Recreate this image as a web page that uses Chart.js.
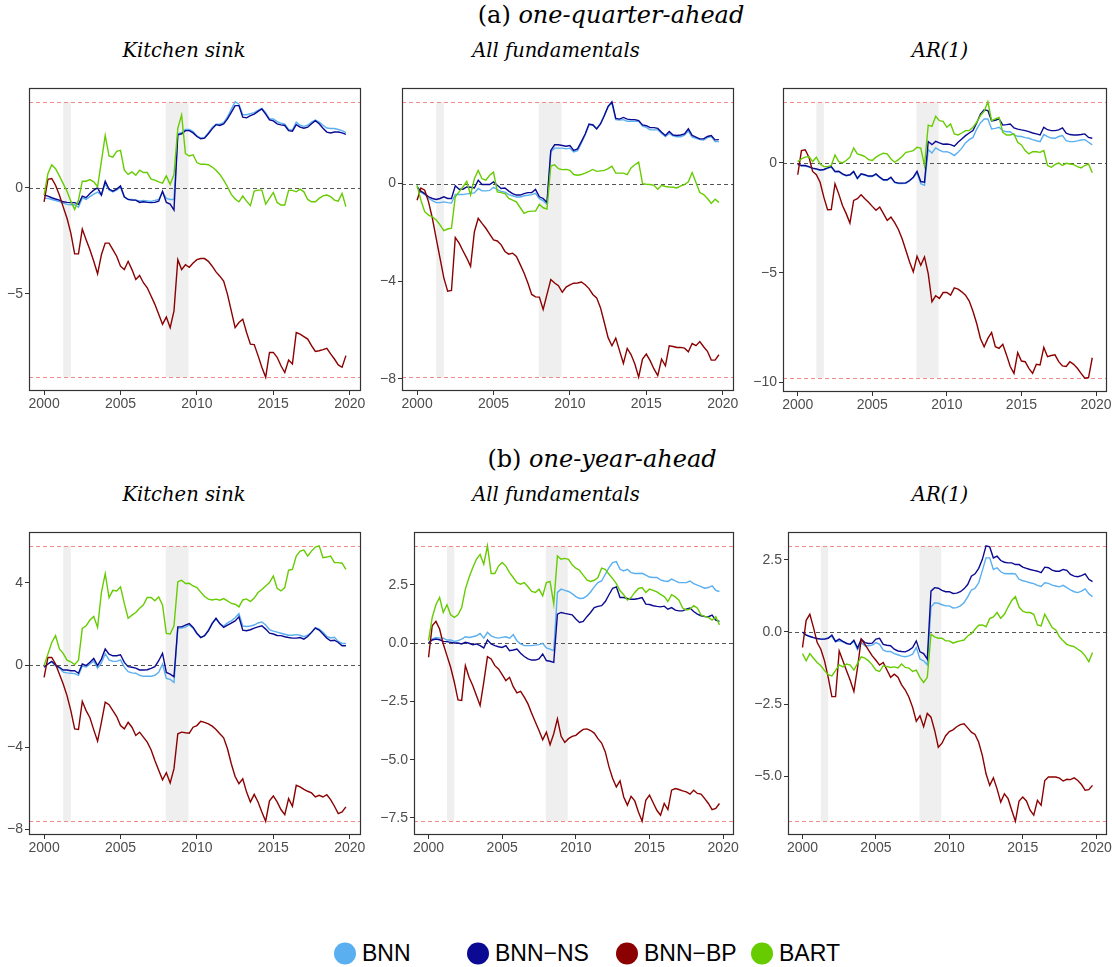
<!DOCTYPE html>
<html>
<head>
<meta charset="utf-8">
<script src="https://cdn.jsdelivr.net/npm/chart.js@4.4.0/dist/chart.umd.min.js"></script>
<style>
  html, body { margin: 0; padding: 0; background: #fff; }
  body { width: 1112px; height: 967px; position: relative; overflow: hidden; }
  canvas { position: absolute; }
  .hdr { position: absolute; transform: translate(-50%, -50%); white-space: nowrap;
         font-family: "DejaVu Serif", "Liberation Serif", serif; font-size: 24px; color: #000; }
  .hdr i { font-style: italic; }
  .ttl { position: absolute; transform: translate(-50%, -50%); white-space: nowrap;
         font-family: "DejaVu Serif", "Liberation Serif", serif; font-style: italic; font-size: 19.5px; color: #000; }
  .leg { position: absolute; top: 953px; transform: translateY(-50%); display: flex; align-items: center;
         font-family: "Liberation Sans", Arial, sans-serif; font-size: 23px; color: #000; white-space: nowrap; }
  .dot { width: 22px; height: 22px; border-radius: 50%; margin-right: 6px; }
</style>
</head>
<body>

<div class="hdr" style="left:611px; top:15px;">(a) <i>one-quarter-ahead</i></div>
<div class="hdr" style="left:602px; top:459px;">(b) <i>one-year-ahead</i></div>

<script>
// Quarterly time index, 2000Q1 .. 2019Q4
const quarters = [];
for (let yr = 2000; yr <= 2019; yr++) for (let k = 0; k < 4; k++) quarters.push(yr + k / 4);

const seriesNames = ["BNN", "BNN\u2212NS", "BNN\u2212BP", "BART"];
const seriesColors = ["#5aaff0", "#0a0a92", "#8b0000", "#66cc00"];
const xTicks = [2000, 2005, 2010, 2015, 2020];
const recessions = [[2001.25, 2001.75], [2007.96, 2009.45]];

// (a) one-quarter-ahead — Kitchen sink
const ksQ_bnn = [-0.5,-0.5,-0.55,-0.6,-0.65,-0.72,-0.78,-0.8,-0.8,-0.92, -0.48,-0.55,-0.42,-0.3,-0.2,-0.34,0.2,-0.1,-0.2,-0.1, 0.03,-0.45,-0.55,-0.55,-0.58,-0.62,-0.6,-0.62,-0.64,-0.6, -0.55,-0.2,-0.5,-0.55,-0.55,2.55,2.6,2.75,2.75,2.65, 2.45,2.35,2.38,2.6,2.85,3.0,3.0,3.08,3.35,3.7, 4.06,3.95,3.45,3.45,3.5,3.55,3.65,3.75,3.55,3.25, 3.25,3.12,3.05,3.0,2.75,2.72,3.1,2.95,2.9,2.95, 3.1,3.2,3.1,2.95,2.82,2.8,2.8,2.75,2.7,2.6];
const ksQ_ns = [-0.34,-0.39,-0.47,-0.53,-0.58,-0.66,-0.69,-0.7,-0.7,-0.78, -0.39,-0.47,-0.27,-0.11,0,-0.34,0.31,-0.06,-0.16,-0.06, 0.09,-0.42,-0.55,-0.58,-0.58,-0.69,-0.66,-0.69,-0.7,-0.69, -0.63,-0.16,-0.69,-0.77,-1.05,2.5,2.55,2.7,2.7,2.59, 2.42,2.31,2.34,2.55,2.78,2.98,2.94,3.02,3.25,3.56, 3.88,3.88,3.33,3.3,3.41,3.48,3.61,3.72,3.48,3.2, 3.16,3.02,2.97,2.94,2.7,2.67,2.98,2.86,2.81,2.86, 3.02,3.17,3.02,2.81,2.63,2.59,2.63,2.63,2.59,2.52];
const ksQ_bp = [-0.66,0.4,0.44,0.12,-0.34,-0.9,-1.44,-2.14,-3.12,-3.12, -1.95,-2.45,-2.92,-3.47,-4.06,-3.16,-2.61,-2.61,-2.92,-3.23, -3.7,-3.86,-3.47,-3.86,-4.33,-4.14,-4.48,-4.72,-5.11,-5.5, -5.97,-6.44,-6.1,-6.6,-5.81,-3.39,-3.86,-3.63,-3.75,-3.55, -3.39,-3.34,-3.34,-3.47,-3.7,-3.97,-4.17,-4.4,-5.03,-5.81, -6.6,-6.36,-6.2,-6.83,-7.38,-7.4,-7.92,-8.47,-8.94,-7.77, -7.77,-8.0,-8.4,-8.72,-8.13,-8.31,-6.83,-6.91,-7.02,-7.14, -7.45,-7.72,-7.69,-7.64,-7.58,-7.84,-8.08,-8.36,-8.47,-7.92];
const ksQ_bart = [-0.34,0.67,1.09,0.9,0.56,0.2,-0.16,-0.63,-1.02,-0.58, 0.31,0.31,0.39,0.28,0.05,1.25,2.47,1.5,1.45,1.72, 1.77,0.83,0.63,0.75,0.59,0.83,0.72,0.72,0.41,0.36, 0.28,0.22,0.56,0.16,0.63,2.81,3.44,1.61,1.5,1.56, 1.19,1.11,1.11,1.09,0.98,0.83,0.63,0.36,0.05,-0.31, -0.53,-0.66,-0.39,-0.63,-0.84,-0.16,-0.11,-0.11,-0.77,-0.5, -0.22,-0.69,-0.81,-0.81,-0.12,-0.12,-0.19,-0.06,-0.19,-0.55, -0.66,-0.66,-0.5,-0.38,-0.34,-0.42,-0.58,-0.63,-0.27,-0.89];
const ksQ_ticks = [-5, 0];

// (a) one-quarter-ahead — All fundamentals
const afQ_bnn = [-0.1,-0.35,-0.45,-0.6,-0.7,-0.78,-0.78,-0.75,-0.78,-0.8, -0.45,-0.45,-0.45,-0.42,-0.4,-0.38,-0.2,-0.3,-0.3,-0.28, -0.15,-0.25,-0.32,-0.35,-0.45,-0.5,-0.55,-0.55,-0.5,-0.48, -0.45,-0.4,-0.62,-0.7,-0.85,1.3,1.45,1.45,1.45,1.42, 1.45,1.3,1.35,1.65,2.0,2.4,2.42,2.25,2.45,2.8, 3.15,3.3,2.62,2.6,2.62,2.55,2.55,2.55,2.55,2.35, 2.3,2.2,2.2,2.2,2.05,1.92,2.05,1.95,1.92,1.92, 1.98,2.15,1.9,1.85,1.8,1.78,1.88,1.92,1.72,1.72];
const afQ_ns = [-0.14,-0.31,-0.41,-0.54,-0.61,-0.65,-0.61,-0.54,-0.61,-0.61, -0.09,-0.23,-0.23,-0.14,-0.15,-0.18,0.14,-0.04,-0.04,-0.04, 0.07,-0.07,-0.2,-0.18,-0.31,-0.41,-0.47,-0.47,-0.41,-0.37, -0.37,-0.24,-0.54,-0.61,-0.77,1.36,1.59,1.59,1.56,1.53, 1.56,1.36,1.42,1.72,2.03,2.44,2.4,2.24,2.44,2.78, 3.16,3.35,2.67,2.64,2.71,2.64,2.62,2.62,2.58,2.4, 2.37,2.29,2.29,2.26,2.1,1.97,2.13,1.99,1.97,1.99, 2.03,2.24,1.97,1.9,1.83,1.83,1.93,1.97,1.79,1.8];
const afQ_bp = [-0.68,-0.18,-0.27,-0.75,-1.42,-2.24,-3.05,-3.86,-4.41,-4.38, -2.21,-2.44,-2.75,-3.05,-3.39,-1.97,-1.42,-1.63,-1.83,-2.07, -2.31,-2.35,-2.51,-2.78,-2.89,-2.85,-2.98,-3.32,-3.66,-4.07, -4.54,-4.64,-4.65,-5.15,-4.54,-3.93,-4.07,-4.18,-4.45,-4.24, -4.15,-4.08,-4.07,-4.03,-4.14,-4.3,-4.54,-4.68,-5.08,-5.69, -6.31,-6.64,-6.33,-6.85,-7.36,-6.75,-7.0,-7.39,-7.93,-7.19, -6.98,-7.25,-7.59,-7.86,-7.19,-7.46,-6.64,-6.67,-6.71,-6.71, -6.74,-6.89,-6.55,-6.64,-6.47,-6.68,-6.87,-7.23,-7.23,-7.01];
const afQ_bart = [-0.07,-0.68,-1.15,-1.29,-1.36,-1.49,-1.69,-1.93,-1.86,-1.83, -0.54,-0.34,-0.14,0.09,-0.47,0.2,0.54,0.2,0.14,0.34, 0.47,-0.34,-0.37,-0.41,-0.61,-0.68,-0.75,-0.99,-1.22,-1.15, -1.13,-1.13,-0.85,-0.99,-1.04,0.72,0.77,0.61,0.57,0.58, 0.54,0.37,0.34,0.37,0.43,0.5,0.58,0.5,0.52,0.54, 0.61,0.71,0.43,0.43,0.43,0.37,0.64,0.77,0.88,0, -0.03,-0.04,-0.07,-0.23,-0.07,-0.12,-0.14,-0.15,-0.18,-0.09, -0.04,0.07,0.45,0.04,-0.37,-0.45,-0.61,-0.81,-0.64,-0.77];
const afQ_ticks = [-8, -4, 0];

// (a) one-quarter-ahead — AR(1)
const arQ_bnn = [-0.07,-0.14,-0.14,-0.19,-0.26,-0.29,-0.34,-0.32,-0.25,-0.19, -0.41,-0.4,-0.52,-0.59,-0.56,-0.41,-0.72,-0.52,-0.56,-0.62, -0.62,-0.52,-0.67,-0.79,-0.79,-0.67,-0.9,-0.94,-0.94,-0.93, -0.82,-0.67,-0.45,-0.95,-1.02,0.6,0.45,0.68,0.58,0.5, 0.51,0.44,0.33,0.48,0.67,0.91,1.06,1.16,1.54,1.82, 2.0,2.0,1.54,1.57,1.62,1.47,1.42,1.42,1.27,1.21, 1.2,1.15,1.12,1.06,1.01,0.97,1.29,1.2,1.13,1.12, 1.2,1.24,1.01,0.97,0.97,1.0,1.04,1.06,0.94,0.82];
const arQ_ns = [-0.05,-0.12,-0.12,-0.17,-0.24,-0.27,-0.32,-0.3,-0.23,-0.17, -0.39,-0.38,-0.5,-0.57,-0.54,-0.39,-0.7,-0.5,-0.54,-0.6, -0.6,-0.5,-0.65,-0.77,-0.77,-0.65,-0.88,-0.92,-0.92,-0.91, -0.8,-0.65,-0.38,-0.85,-0.88,0.97,0.83,0.98,0.91,0.85, 0.86,0.83,0.76,0.94,1.09,1.24,1.36,1.47,1.82,2.22, 2.42,2.38,1.91,1.94,2.0,1.72,1.74,1.77,1.59,1.54, 1.5,1.47,1.42,1.36,1.32,1.27,1.62,1.51,1.47,1.47, 1.5,1.59,1.35,1.29,1.27,1.27,1.29,1.32,1.16,1.12];
const arQ_bp = [-0.54,0.56,0.6,0.26,-0.39,-0.54,-0.88,-1.56,-2.13,-2.12, -0.95,-1.41,-1.94,-2.31,-2.74,-1.71,-1.63,-1.45,-1.63,-1.79, -1.98,-2.16,-2.01,-2.31,-2.62,-2.47,-2.72,-3.03,-3.45,-3.98, -4.51,-4.96,-4.25,-4.66,-4.28,-5.04,-6.32,-6.05,-6.17,-5.9, -5.9,-6.02,-5.69,-5.75,-5.87,-6.02,-6.29,-6.75,-7.31,-7.99, -8.37,-7.99,-7.72,-8.37,-8.44,-8.26,-8.74,-9.27,-9.58,-8.64, -9.02,-9.05,-9.35,-9.58,-9.17,-9.2,-8.4,-8.82,-8.77,-8.74, -9.05,-9.24,-9.27,-9.05,-9.17,-9.35,-9.58,-9.8,-9.77,-8.87];
const arQ_bart = [0.06,0.18,0.26,0.29,0.06,0.26,-0.05,-0.17,-0.17,-0.12, 0.36,0.06,0,0.11,0.26,0.68,0.41,0.36,0.29,0.15, 0.11,0.26,0.36,0.44,0.41,0.18,0.03,0.15,0.29,0.48, 0.51,0.56,0.71,0.67,-0.12,1.72,1.66,2.12,1.92,1.89, 1.62,1.77,1.32,1.27,1.36,1.47,1.47,1.62,1.85,2.15, 2.35,2.78,1.92,2.0,2.07,1.39,1.27,1.27,1.32,0.94, 0.82,0.56,0.41,0.51,0.51,0.48,0.56,-0.12,-0.2,-0.08, 0,-0.12,-0.02,-0.05,-0.08,-0.17,-0.23,-0.12,-0.05,-0.45];
const arQ_ticks = [-10, -5, 0];

// (b) one-year-ahead — Kitchen sink
const ksY_bnn = [-0.1,0.05,0.15,-0.05,-0.15,-0.35,-0.38,-0.4,-0.42,-0.5, -0.05,-0.1,0.05,0.2,-0.15,0.1,0.55,0.25,0.18,0.18, 0.25,-0.1,-0.32,-0.38,-0.4,-0.5,-0.55,-0.55,-0.55,-0.5, -0.35,0.05,-0.65,-0.7,-0.85,1.8,1.8,1.85,1.95,1.8, 1.52,1.35,1.42,1.7,2.05,2.25,2.0,1.9,2.05,2.15, 2.3,2.5,1.9,1.88,1.9,1.95,2.05,2.1,1.95,1.72, 1.65,1.6,1.55,1.5,1.45,1.45,1.48,1.45,1.38,1.45, 1.6,1.82,1.75,1.6,1.4,1.32,1.35,1.15,1.05,1.05];
const ksY_ns = [-0.11,0.05,0.18,0,-0.11,-0.24,-0.24,-0.28,-0.28,-0.4, 0.05,-0.03,0.13,0.32,-0.03,0.29,0.78,0.53,0.45,0.45, 0.5,0.13,-0.08,-0.11,-0.15,-0.24,-0.24,-0.23,-0.16,-0.08, 0.21,0.57,-0.36,-0.44,-0.57,1.86,1.86,1.94,2.02,1.83, 1.55,1.34,1.43,1.67,2.02,2.28,2.02,1.83,1.94,2.04, 2.15,2.35,1.7,1.67,1.72,1.8,1.86,1.91,1.75,1.55, 1.51,1.44,1.43,1.38,1.34,1.31,1.31,1.34,1.26,1.39, 1.59,1.8,1.7,1.51,1.31,1.18,1.21,1.1,0.94,0.94];
const ksY_bp = [-0.6,0.37,0.37,0.05,-0.44,-0.92,-1.49,-2.22,-3.11,-3.14, -1.77,-2.22,-2.57,-3.16,-3.71,-2.79,-1.81,-1.93,-2.22,-2.51, -2.95,-3.11,-2.79,-3.03,-3.43,-3.27,-3.51,-3.76,-4.13,-4.65, -5.13,-5.59,-5.25,-5.75,-5.05,-3.35,-3.27,-3.3,-3.32,-3.03, -2.95,-2.74,-2.79,-2.87,-2.98,-3.14,-3.35,-3.55,-4.08,-4.81, -5.43,-5.78,-5.54,-6.19,-6.67,-6.3,-6.67,-7.16,-7.61,-6.62, -6.38,-6.67,-7.04,-7.29,-6.51,-6.88,-5.86,-5.94,-6.06,-6.15, -6.23,-6.43,-6.35,-6.43,-6.32,-6.56,-6.88,-7.24,-7.16,-6.91];
const ksY_bart = [-0.03,0.53,1.1,1.43,0.78,0.57,0.24,0.16,0.02,0.24, 1.78,1.91,2.19,2.36,1.83,3.53,4.45,3.29,3.64,3.61, 3.81,3.0,2.28,2.43,2.56,2.77,2.93,3.29,3.29,3.13, 3.32,2.93,1.54,1.51,1.91,4.06,4.13,3.97,3.98,3.85, 3.77,3.55,3.34,3.21,3.17,3.21,3.16,3.24,3.13,3.0, 2.96,2.83,3.17,3.22,3.09,3.26,3.53,3.68,3.85,4.02, 4.34,3.74,3.61,3.77,4.62,4.66,5.31,5.55,5.6,5.31, 5.55,5.75,5.81,5.23,5.26,5.31,4.99,4.99,4.96,4.66];
const ksY_ticks = [-8, -4, 0, 4];

// (b) one-year-ahead — All fundamentals
const afY_bnn = [0,0.17,0.24,0.21,0.21,0.13,0.13,0.07,0.1,0.17, 0.27,0.24,0.27,0.31,0.41,0.21,0.46,0.31,0.24,0.21, 0.24,0.27,0.21,0.36,0.1,-0.04,-0.11,-0.11,-0.11,-0.09, -0.07,-0.01,-0.21,-0.26,-0.33,2.17,2.31,2.26,2.21,2.12, 1.99,1.91,1.92,2.02,2.19,2.41,2.59,2.66,2.95,3.23, 3.45,3.49,3.16,3.09,3.16,3.02,2.98,2.98,2.99,2.91, 2.83,2.81,2.81,2.71,2.66,2.64,2.74,2.66,2.59,2.59, 2.59,2.66,2.55,2.48,2.42,2.35,2.38,2.45,2.26,2.21];
const afY_ns = [0,0.13,0.17,0.14,0.07,0.06,0.03,0,0,-0.04, 0.03,-0.01,-0.07,-0.04,-0.11,-0.21,0.13,-0.04,-0.11,-0.16, -0.19,-0.11,-0.33,-0.3,-0.26,-0.44,-0.58,-0.68,-0.73,-0.73, -0.68,-0.47,-0.75,-0.78,-0.83,1.24,1.31,1.27,1.24,1.21, 1.03,0.88,0.93,1.13,1.31,1.52,1.57,1.6,1.78,2.07, 2.35,2.41,1.95,1.95,1.91,1.88,1.88,1.91,1.95,1.67, 1.65,1.6,1.57,1.55,1.58,1.45,1.52,1.41,1.38,1.38, 1.45,1.5,1.35,1.24,1.17,1.14,1.13,1.2,0.98,0.93];
const afY_bp = [-0.61,0.74,0.93,0.6,-0.04,-0.54,-1.04,-1.68,-2.44,-2.46, -0.97,-1.47,-1.82,-2.25,-2.68,-1.68,-0.58,-0.68,-0.97,-1.11, -1.35,-1.61,-1.47,-1.87,-2.14,-2.07,-2.32,-2.61,-3.01,-3.39, -3.75,-4.15,-3.82,-4.36,-3.89,-3.25,-4.0,-4.26,-4.1,-4.0, -3.96,-3.82,-3.7,-3.68,-3.75,-3.86,-4.1,-4.29,-4.67,-5.31, -5.81,-6.17,-5.91,-6.6,-6.95,-6.57,-6.77,-7.24,-7.64,-6.74, -6.52,-6.85,-7.17,-7.38,-6.88,-7.14,-6.31,-6.24,-6.28,-6.34, -6.38,-6.48,-6.31,-6.45,-6.48,-6.67,-6.88,-7.14,-7.09,-6.88];
const afY_bart = [0.1,1.1,1.64,1.95,1.31,1.64,1.21,1.1,1.21,1.52, 2.31,2.81,3.23,3.59,3.8,3.38,4.17,2.98,2.98,3.3, 3.45,3.3,3.02,2.81,2.59,2.52,2.59,2.41,2.21,2.17, 2.31,2.02,2.59,2.64,1.67,3.73,3.59,3.63,3.59,3.35, 3.21,3.12,2.91,2.71,2.64,2.69,2.81,3.21,3.16,2.95, 2.76,2.55,2.24,2.07,1.84,1.95,2.17,2.34,2.38,2.17, 2.31,2.26,2.19,2.09,1.99,1.78,2.07,1.98,1.84,1.5, 1.42,1.45,1.6,1.5,1.2,1.14,1.1,0.98,1.13,0.78];
const afY_ticks = [-7.5, -5, -2.5, 0, 2.5];

// (b) one-year-ahead — AR(1)
const arY_bnn = [-0.02,-0.1,-0.15,-0.2,-0.23,-0.25,-0.25,-0.2,-0.15,-0.34, -0.31,-0.34,-0.39,-0.43,-0.33,-0.62,-0.37,-0.48,-0.48,-0.46, -0.37,-0.43,-0.63,-0.68,-0.68,-0.75,-0.79,-0.84,-0.86,-0.83, -0.77,-0.54,-0.94,-1.0,-1.14,0.86,1.01,0.99,0.94,0.9, 0.9,0.83,0.84,0.9,1.01,1.21,1.45,1.51,1.7,2.13, 2.56,2.56,2.16,2.22,2.08,2.02,2.01,2.02,2.01,1.82, 1.77,1.74,1.7,1.67,1.61,1.57,1.7,1.68,1.62,1.59, 1.56,1.61,1.53,1.45,1.39,1.36,1.41,1.49,1.32,1.22];
const arY_ns = [0,-0.11,-0.16,-0.2,-0.23,-0.25,-0.25,-0.22,-0.11,-0.33, -0.25,-0.33,-0.4,-0.43,-0.29,-0.56,-0.25,-0.37,-0.4,-0.39, -0.25,-0.22,-0.43,-0.46,-0.48,-0.6,-0.66,-0.68,-0.69,-0.63, -0.54,-0.31,-0.69,-0.75,-0.94,1.41,1.53,1.51,1.44,1.39, 1.39,1.33,1.34,1.39,1.49,1.64,1.93,2.01,2.2,2.51, 2.98,2.94,2.56,2.62,2.47,2.41,2.39,2.39,2.33,2.33, 2.24,2.2,2.16,2.13,2.1,2.05,2.24,2.22,2.14,2.1, 2.1,2.16,2.13,1.99,1.93,1.91,1.95,2.01,1.82,1.74];
const arY_bp = [-0.54,0.4,0.61,0.15,-0.37,-0.6,-1.0,-1.57,-2.24,-2.24, -0.66,-1.0,-1.34,-1.67,-2.06,-1.23,-0.25,-0.43,-0.63,-0.83, -0.98,-1.15,-1.06,-1.32,-1.57,-1.46,-1.57,-1.83,-2.01,-2.26, -2.61,-3.09,-2.9,-3.28,-2.82,-2.95,-3.41,-3.99,-3.85,-3.59, -3.45,-3.39,-3.28,-3.21,-3.18,-3.32,-3.47,-3.55,-3.82,-4.28, -4.91,-5.31,-5.05,-5.43,-5.89,-5.6,-5.77,-6.17,-6.55,-5.85, -5.71,-5.85,-6.17,-6.34,-5.83,-6.0,-5.14,-5.02,-5.02,-5.02, -5.06,-5.16,-5.1,-5.11,-5.05,-5.14,-5.28,-5.48,-5.46,-5.31];
const arY_bart = [-0.75,-1.0,-0.75,-0.91,-1.06,-1.17,-1.34,-1.48,-1.52,-1.34, -1.14,-1.21,-1.11,-1.15,-1.32,-1.09,-0.86,-0.91,-1.0,-1.14, -1.32,-1.37,-1.17,-1.2,-1.23,-1.21,-1.25,-1.11,-1.23,-1.25, -1.37,-1.32,-1.57,-1.75,-1.57,-0.08,-0.17,-0.22,-0.22,-0.31, -0.31,-0.39,-0.34,-0.31,-0.28,-0.14,-0.06,0.09,0.23,0.24, 0.18,0.46,0.52,0.67,0.47,0.61,0.86,1.09,1.22,0.86, 0.72,0.67,0.67,0.61,0.24,0.21,0.61,0.38,0.15,0.07, -0.17,-0.31,-0.43,-0.48,-0.51,-0.6,-0.68,-0.83,-1.03,-0.71];
const arY_ticks = [-5, -2.5, 0, 2.5];

// Panel layout: plot-area box [left, top, right, bottom] in page pixels
const panels = [
  { box: [29, 88, 361, 391],   title: "Kitchen sink",     tx: 184, ty: 50,  series: [ksQ_bnn, ksQ_ns, ksQ_bp, ksQ_bart], ticks: ksQ_ticks, dec: 0 },
  { box: [402, 88, 734, 391],  title: "All fundamentals", tx: 556, ty: 50,  series: [afQ_bnn, afQ_ns, afQ_bp, afQ_bart], ticks: afQ_ticks, dec: 0 },
  { box: [783, 88, 1107, 392], title: "AR(1)",            tx: 940, ty: 50,  series: [arQ_bnn, arQ_ns, arQ_bp, arQ_bart], ticks: arQ_ticks, dec: 0 },
  { box: [29, 532, 361, 835],  title: "Kitchen sink",     tx: 184, ty: 494, series: [ksY_bnn, ksY_ns, ksY_bp, ksY_bart], ticks: ksY_ticks, dec: 0 },
  { box: [414, 532, 734, 835], title: "All fundamentals", tx: 556, ty: 494, series: [afY_bnn, afY_ns, afY_bp, afY_bart], ticks: afY_ticks, dec: 1 },
  { box: [788, 532, 1107, 835], title: "AR(1)",           tx: 940, ty: 494, series: [arY_bnn, arY_ns, arY_bp, arY_bart], ticks: arY_ticks, dec: 1 }
];

// Shaded recessions, zero line, and dashed lines at the overall max/min
const decor = {
  id: "decor",
  beforeDatasetsDraw(chart, args, opts) {
    const { ctx, chartArea: a, scales: { x, y } } = chart;
    ctx.save();
    ctx.beginPath();
    ctx.rect(a.left, a.top, a.right - a.left, a.bottom - a.top);
    ctx.clip();
    ctx.fillStyle = "#efefef";
    const yTop = y.getPixelForValue(opts.hi), yBot = y.getPixelForValue(opts.lo);
    recessions.forEach(([s, e]) => {
      const x0 = x.getPixelForValue(s), x1 = x.getPixelForValue(e);
      ctx.fillRect(x0, yTop, x1 - x0, yBot - yTop);
    });
    ctx.lineWidth = 1;
    ctx.setLineDash([4, 3]);
    const hline = (v, color) => {
      const py = Math.round(y.getPixelForValue(v)) + 0.5;
      ctx.strokeStyle = color;
      ctx.beginPath();
      ctx.moveTo(a.left, py);
      ctx.lineTo(a.right, py);
      ctx.stroke();
    };
    hline(opts.hi, "#f28b8b");
    hline(opts.lo, "#f28b8b");
    hline(0, "#555555");
    ctx.restore();
  },
  afterDraw(chart) {
    const { ctx, chartArea: a } = chart;
    ctx.save();
    ctx.strokeStyle = "#333333";
    ctx.lineWidth = 1.2;
    ctx.strokeRect(Math.round(a.left) + 0.5, Math.round(a.top) + 0.5,
                   Math.round(a.right - a.left) - 1, Math.round(a.bottom - a.top) - 1);
    ctx.restore();
  }
};

const fmt = (v, dec) => (dec ? Number(v).toFixed(dec) : String(v)).replace("-", "\u2212");

const xFirst = quarters[0], xLast = quarters[quarters.length - 1];
const xPad = 0.05 * (xLast - xFirst);

panels.forEach((p, idx) => {
  const [L, T, R, B] = p.box;
  const all = p.series.flat();
  const hi = Math.max(...all), lo = Math.min(...all);
  const yPad = 0.05 * (hi - lo);

  const padTop = 12, padRight = 24, xAxisH = 30;
  const canvasLeft = Math.max(0, L - 48);
  const axisW = L - canvasLeft;
  const canvas = document.createElement("canvas");
  const W = R - canvasLeft + padRight, H = (B - T) + padTop + xAxisH;
  canvas.width = W; canvas.height = H;
  canvas.style.left = canvasLeft + "px";
  canvas.style.top = (T - padTop) + "px";
  canvas.style.width = W + "px"; canvas.style.height = H + "px";
  document.body.appendChild(canvas);

  const t = document.createElement("div");
  t.className = "ttl";
  t.style.left = p.tx + "px"; t.style.top = p.ty + "px";
  t.textContent = p.title;
  document.body.appendChild(t);

  const tickFont = { family: "'Liberation Sans', Arial, sans-serif", size: 14 };

  new Chart(canvas, {
    type: "line",
    data: {
      datasets: p.series.map((arr, i) => ({
        label: seriesNames[i],
        data: quarters.map((q, j) => ({ x: q, y: arr[j] })),
        borderColor: seriesColors[i],
        borderWidth: 1.4,
        pointRadius: 0,
        tension: 0,
        fill: false,
        order: 4 - i
      }))
    },
    options: {
      responsive: false,
      animation: false,
      devicePixelRatio: 1,
      events: [],
      layout: { padding: { top: padTop, right: padRight, left: 0, bottom: 0 } },
      plugins: {
        legend: { display: false },
        tooltip: { enabled: false },
        decor: { hi, lo }
      },
      scales: {
        x: {
          type: "linear",
          min: xFirst - xPad,
          max: xLast + xPad,
          afterFit: (s) => { s.height = xAxisH; },
          afterBuildTicks: (s) => { s.ticks = xTicks.map((v) => ({ value: v })); },
          grid: { drawOnChartArea: false, drawTicks: true, tickLength: 4, color: "#333333" },
          border: { display: false },
          ticks: { autoSkip: false, maxRotation: 0, padding: 1, color: "#4d4d4d", font: tickFont,
                   callback: (v) => String(v) }
        },
        y: {
          type: "linear",
          min: lo - yPad,
          max: hi + yPad,
          afterFit: (s) => { s.width = axisW; },
          afterBuildTicks: (s) => { s.ticks = p.ticks.map((v) => ({ value: v })); },
          grid: { drawOnChartArea: false, drawTicks: true, tickLength: 4, color: "#333333" },
          border: { display: false },
          ticks: { autoSkip: false, padding: 2, color: "#4d4d4d", font: tickFont,
                   callback: (v) => fmt(v, p.dec) }
        }
      }
    },
    plugins: [decor]
  });
});

// Shared legend
const legendX = [334, 467, 616, 751];
seriesNames.forEach((name, i) => {
  const d = document.createElement("div");
  d.className = "leg";
  d.style.left = legendX[i] + "px";
  d.innerHTML = '<div class="dot" style="background:' + seriesColors[i] + '"></div><span>' + name + "</span>";
  document.body.appendChild(d);
});
</script>
</body>
</html>
